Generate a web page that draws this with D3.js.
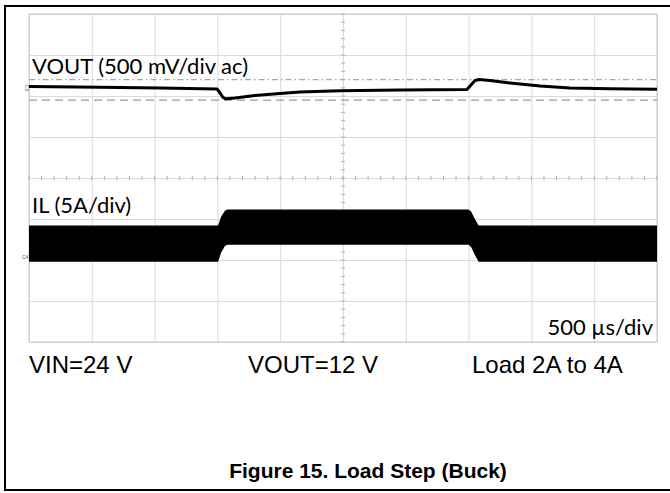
<!DOCTYPE html>
<html>
<head>
<meta charset="utf-8">
<script src="https://cdn.jsdelivr.net/npm/d3@7"></script>
<style>
body { margin: 0; background: #fff; }
</style>
</head>
<body>
<script>
var width = 670;
var height = 493;

// time base: 500 us/div, 10 divisions
var timeTicks = [0, 500, 1000, 1500, 2000, 2500, 3000, 3500, 4000, 4500, 5000];
var divTicks = [0, 1, 2, 3, 4, 5, 6, 7, 8];

// VOUT (ac coupled), mV
var voutTime = [0, 565, 1043, 1497, 1521, 1545, 1568, 1640, 1799, 1998, 2158, 2476, 2954, 3487, 3519, 3551, 3583, 3670, 3830, 4069, 4307, 4626, 5000];
var voutMv   = [16, 7, -2, -15, -63, -118, -134, -124, -94, -70, -51, -37, -27, -21, 34, 89, 101, 89, 59, 22, -2, -12, -18];

// cursors on VOUT, mV
var cursorMv = [100, -150];

// IL ripple envelope, A
var ilTime = [0, 1505, 1530, 1560, 1580, 3500, 3520, 3550, 3580, 5000];
var ilHigh = [4.2, 4.2, 5.3, 6.0, 6.15, 6.15, 5.9, 5.0, 4.2, 4.2];
var ilLow  = [-0.2, -0.2, 0.9, 1.7, 1.85, 1.85, 1.6, 0.6, -0.2, -0.2];

var condLabels = ["VIN=24 V", "VOUT=12 V", "Load 2A to 4A"];
var condX = [29, 248, 472];

var pL = 29, pR = 657, pT = 14, pB = 342;

var svg = d3.select("body")
    .append("svg")
    .attr("width", width)
    .attr("height", height);

svg.append("rect").attr("width", width).attr("height", height).attr("fill", "#fff");

var x = d3.scaleLinear().domain([0, 5000]).range([pL, pR]);
var yDiv = d3.scaleLinear().domain([0, 8]).range([pT, pB]);
var yV = d3.scaleLinear().domain([-3100, 900]).range([pB, pT]);   // 500 mV/div
var yI = d3.scaleLinear().domain([-10, 30]).range([pB, pT]);      // 5 A/div

// grid
svg.append("g")
    .attr("transform", "translate(0," + pB + ")")
    .call(d3.axisBottom(x).tickValues(timeTicks).tickSize(-(pB - pT)).tickFormat(""))
    .call(function(g) {
        g.select(".domain").remove();
        g.selectAll("line").attr("stroke", "#dadada");
    });

svg.append("g")
    .attr("transform", "translate(" + pL + ",0)")
    .call(d3.axisLeft(yDiv).tickValues(divTicks).tickSize(-(pR - pL)).tickFormat(""))
    .call(function(g) {
        g.select(".domain").remove();
        g.selectAll("line").attr("stroke", "#dadada");
    });

svg.append("rect")
    .attr("x", pL).attr("y", pT)
    .attr("width", pR - pL).attr("height", pB - pT)
    .attr("fill", "none").attr("stroke", "#c8c8c8");

// minor ticks on the centre lines
var cx = x(2500), cy = yDiv(4);
svg.append("g").selectAll("line")
    .data(d3.range(0, 8.01, 0.2))
    .enter().append("line")
    .attr("x1", cx - 2).attr("x2", cx + 2)
    .attr("y1", function(d) { return yDiv(d); })
    .attr("y2", function(d) { return yDiv(d); })
    .attr("stroke", "#b0b0b0");
svg.append("g").selectAll("line")
    .data(d3.range(0, 5000.1, 100))
    .enter().append("line")
    .attr("y1", cy - 2).attr("y2", cy + 2)
    .attr("x1", function(d) { return x(d); })
    .attr("x2", function(d) { return x(d); })
    .attr("stroke", "#b0b0b0");

// cursors
svg.append("line")
    .attr("x1", pL).attr("x2", pR)
    .attr("y1", yV(cursorMv[0])).attr("y2", yV(cursorMv[0]))
    .attr("stroke", "#a8a8a8").attr("stroke-width", 1.2)
    .attr("stroke-dasharray", "6,3,1.5,3");
svg.append("line")
    .attr("x1", pL).attr("x2", pR)
    .attr("y1", yV(cursorMv[1])).attr("y2", yV(cursorMv[1]))
    .attr("stroke", "#9a9a9a").attr("stroke-width", 1.2)
    .attr("stroke-dasharray", "8,5");

// IL band
var ilData = ilTime.map(function(t, i) { return {t: t, hi: ilHigh[i], lo: ilLow[i]}; });
svg.append("path")
    .datum(ilData)
    .attr("fill", "#000")
    .attr("d", d3.area()
        .x(function(d) { return x(d.t); })
        .y0(function(d) { return yI(d.lo); })
        .y1(function(d) { return yI(d.hi); }));

// VOUT trace
var vData = voutTime.map(function(t, i) { return {t: t, v: voutMv[i]}; });
svg.append("path")
    .datum(vData)
    .attr("fill", "none")
    .attr("stroke", "#000")
    .attr("stroke-width", 3)
    .attr("stroke-linejoin", "round")
    .attr("d", d3.line()
        .x(function(d) { return x(d.t); })
        .y(function(d) { return yV(d.v); }));

// channel markers
svg.append("text")
    .attr("transform", "translate(25," + yV(0) + ") rotate(90)")
    .attr("text-anchor", "middle")
    .attr("font-family", "Liberation Sans, sans-serif")
    .attr("font-size", "5px")
    .attr("fill", "#555")
    .text("C3");
svg.append("text")
    .attr("x", 22).attr("y", yI(0) - 1)
    .attr("font-family", "Liberation Sans, sans-serif")
    .attr("font-size", "5px")
    .attr("fill", "#555")
    .text("C4");

// scope labels
svg.append("text")
    .attr("x", 32).attr("y", 74)
    .attr("font-family", "Lato, sans-serif")
    .attr("font-size", "22px")
    .text("VOUT (500 mV/div ac)");
svg.append("text")
    .attr("x", 32).attr("y", 213)
    .attr("font-family", "Lato, sans-serif")
    .attr("font-size", "22px")
    .text("IL (5A/div)");
svg.append("text")
    .attr("x", 653).attr("y", 335)
    .attr("text-anchor", "end")
    .attr("font-family", "Lato, sans-serif")
    .attr("font-size", "22px")
    .text("500 \u00b5s/div");

// test conditions
svg.selectAll(".cond")
    .data(condLabels)
    .enter().append("text")
    .attr("class", "cond")
    .attr("x", function(d, i) { return condX[i]; })
    .attr("y", 373)
    .attr("font-family", "Liberation Sans, Arial, sans-serif")
    .attr("font-size", "24px")
    .text(function(d) { return d; });

// caption
svg.append("text")
    .attr("x", 368).attr("y", 478)
    .attr("text-anchor", "middle")
    .attr("font-family", "Liberation Sans, Arial, sans-serif")
    .attr("font-weight", "bold")
    .attr("font-size", "21px")
    .text("Figure 15. Load Step (Buck)");

// frame
svg.append("line").attr("x1", 5).attr("x2", width).attr("y1", 6).attr("y2", 6)
    .attr("stroke", "#000").attr("stroke-width", 2);
svg.append("line").attr("x1", 5).attr("x2", width).attr("y1", 490).attr("y2", 490)
    .attr("stroke", "#000").attr("stroke-width", 2);
svg.append("line").attr("x1", 5).attr("x2", 5).attr("y1", 5).attr("y2", 491)
    .attr("stroke", "#000").attr("stroke-width", 2);
</script>
</body>
</html>
